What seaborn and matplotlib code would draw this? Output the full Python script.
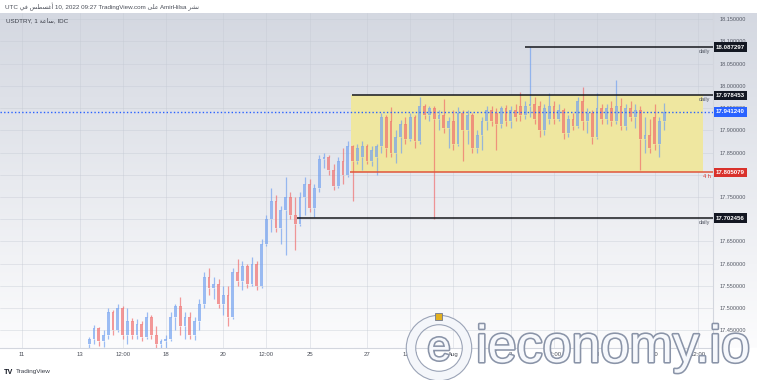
import numpy as np
import pandas as pd
import matplotlib
matplotlib.use("Agg")
import matplotlib.pyplot as plt
import matplotlib.patheffects as pe
from matplotlib.patches import Rectangle, Circle
from matplotlib.transforms import blended_transform_factory
import seaborn as sns

# ---------------- data (USDTRY, sampled every 4 one-hour bars) ----------------
bar_hour = list(range(56, 537, 4))   # trading-hour index from Jul 11 00:00
open_ = [17.420, 17.430, 17.455, 17.425, 17.440, 17.490, 17.450, 17.500, 17.440, 17.470,
         17.440, 17.465, 17.435, 17.480, 17.440, 17.420, 17.425, 17.430, 17.480, 17.505,
         17.460, 17.480, 17.440, 17.470, 17.510, 17.570, 17.545, 17.555, 17.510, 17.530,
         17.480, 17.580, 17.560, 17.595, 17.555, 17.600, 17.550, 17.645, 17.700, 17.740,
         17.680, 17.720, 17.750, 17.710, 17.690, 17.750, 17.780, 17.725, 17.770, 17.835,
         17.840, 17.810, 17.775, 17.830, 17.800, 17.865, 17.830, 17.840, 17.865, 17.830,
         17.840, 17.865, 17.930, 17.920, 17.850, 17.885, 17.915, 17.880, 17.930, 17.875,
         17.955, 17.935, 17.950, 17.925, 17.935, 17.905, 17.920, 17.870, 17.940, 17.900,
         17.935, 17.860, 17.890, 17.920, 17.945, 17.940, 17.915, 17.950, 17.920, 17.945,
         17.955, 17.935, 17.955, 17.960, 17.955, 17.900, 17.925, 17.955, 17.925, 17.945,
         17.895, 17.925, 17.910, 17.965, 17.920, 17.940, 17.885, 17.950, 17.925, 17.950,
         17.920, 17.955, 17.910, 17.950, 17.930, 17.945, 17.880, 17.890, 17.930, 17.870,
         17.920]
high = [17.435, 17.462, 17.458, 17.450, 17.500, 17.495, 17.510, 17.505, 17.500, 17.478,
        17.475, 17.470, 17.490, 17.485, 17.460, 17.430, 17.440, 17.490, 17.510, 17.525,
        17.490, 17.490, 17.480, 17.520, 17.580, 17.590, 17.570, 17.565, 17.550, 17.550,
        17.590, 17.610, 17.605, 17.600, 17.615, 17.605, 17.655, 17.710, 17.770, 17.755,
        17.730, 17.795, 17.760, 17.750, 17.760, 17.795, 17.790, 17.780, 17.845, 17.850,
        17.845, 17.825, 17.840, 17.860, 17.875, 17.867, 17.870, 17.875, 17.870, 17.865,
        17.870, 17.940, 17.935, 17.953, 17.900, 17.924, 17.930, 17.940, 17.935, 17.975,
        17.960, 17.955, 17.955, 17.945, 17.970, 17.930, 17.945, 17.952, 17.945, 17.945,
        17.940, 17.900, 17.930, 17.955, 17.955, 17.950, 17.955, 17.957, 17.955, 17.960,
        17.986, 17.965, 18.087, 17.975, 17.965, 17.960, 17.984, 17.965, 17.960, 17.950,
        17.935, 17.940, 17.975, 17.997, 17.950, 17.945, 17.985, 17.960, 17.960, 17.965,
        18.013, 17.972, 17.960, 17.965, 17.960, 17.955, 17.930, 17.925, 17.960, 17.930,
        17.962]
low = [17.405, 17.420, 17.415, 17.412, 17.430, 17.440, 17.445, 17.430, 17.420, 17.430,
       17.430, 17.425, 17.430, 17.430, 17.410, 17.400, 17.410, 17.425, 17.450, 17.440,
       17.430, 17.430, 17.428, 17.450, 17.500, 17.530, 17.520, 17.500, 17.485, 17.460,
       17.475, 17.550, 17.540, 17.545, 17.550, 17.540, 17.545, 17.640, 17.670, 17.670,
       17.645, 17.620, 17.700, 17.630, 17.685, 17.710, 17.715, 17.705, 17.760, 17.815,
       17.800, 17.765, 17.770, 17.780, 17.795, 17.740, 17.825, 17.810, 17.825, 17.820,
       17.800, 17.850, 17.840, 17.840, 17.826, 17.850, 17.870, 17.875, 17.860, 17.870,
       17.925, 17.920, 17.700, 17.900, 17.895, 17.860, 17.855, 17.865, 17.830, 17.870,
       17.850, 17.850, 17.855, 17.900, 17.910, 17.855, 17.905, 17.910, 17.905, 17.920,
       17.920, 17.925, 17.930, 17.915, 17.885, 17.890, 17.915, 17.915, 17.920, 17.880,
       17.885, 17.900, 17.905, 17.900, 17.895, 17.870, 17.880, 17.915, 17.915, 17.910,
       17.915, 17.900, 17.900, 17.920, 17.905, 17.810, 17.850, 17.850, 17.855, 17.840,
       17.900]
close = [17.430, 17.455, 17.425, 17.440, 17.490, 17.450, 17.500, 17.440, 17.470, 17.440,
         17.465, 17.435, 17.480, 17.440, 17.420, 17.425, 17.430, 17.480, 17.505, 17.460,
         17.480, 17.440, 17.470, 17.510, 17.570, 17.545, 17.555, 17.510, 17.530, 17.480,
         17.580, 17.560, 17.595, 17.555, 17.600, 17.550, 17.645, 17.700, 17.740, 17.680,
         17.720, 17.750, 17.710, 17.690, 17.750, 17.780, 17.725, 17.770, 17.835, 17.840,
         17.810, 17.775, 17.830, 17.800, 17.865, 17.830, 17.860, 17.865, 17.830, 17.855,
         17.865, 17.930, 17.860, 17.850, 17.885, 17.915, 17.880, 17.930, 17.875, 17.955,
         17.935, 17.950, 17.925, 17.935, 17.905, 17.920, 17.870, 17.940, 17.900, 17.935,
         17.860, 17.890, 17.920, 17.945, 17.920, 17.915, 17.950, 17.920, 17.945, 17.930,
         17.935, 17.955, 17.960, 17.925, 17.900, 17.950, 17.955, 17.925, 17.945, 17.895,
         17.925, 17.910, 17.965, 17.920, 17.940, 17.885, 17.950, 17.925, 17.950, 17.920,
         17.955, 17.910, 17.950, 17.930, 17.945, 17.880, 17.890, 17.860, 17.870, 17.920,
         17.941]

xtick_hour = [0, 48, 84, 120, 168, 204, 240, 288, 324, 360, 408, 444, 480, 528, 564]
xtick_label = ["11", "13", "12:00", "18", "20", "12:00", "25", "27", "12:00",
               "Aug", "3", "12:00", "8", "10", "12:00"]
ytick_values = [17.45, 17.50, 17.55, 17.60, 17.65, 17.70, 17.75, 17.80,
                17.85, 17.90, 17.95, 18.00, 18.05, 18.10, 18.15]

level_price = [18.087297, 17.978453, 17.805079, 17.702456]
level_start = [420.0, 275.5, 273.8, 229.5]
level_note = ["daily", "daily", "4 h", "daily"]
last_price = 17.941240
zone_start, zone_end = 274.5, 568.4
zone_top, zone_bottom = 17.978453, 17.805079

# ---------------- styling ----------------
sns.set_theme(style="white")
plt.rcParams["font.family"] = ["Liberation Sans", "DejaVu Sans"]

W, H = 757, 380
TOP, BOT, RIGHT = 13, 348, 713
XMIN, XMAX = -18.4, 576.8
YMIN, YMAX = 17.410, 18.164
UP, DOWN = "#6f9ff0", "#f06a6a"

fig = plt.figure(figsize=(W / 100, H / 100), dpi=100, facecolor="white")

# gradient background of chart + price scale
bg = fig.add_axes([0, 1 - BOT / H, 1, (BOT - TOP) / H], zorder=0)
g = np.linspace(0, 1, 256)[:, None, None]
c_top = np.array([212, 216, 225]) / 255
c_bot = np.array([252, 252, 253]) / 255
bg.imshow(c_top * (1 - g) + c_bot * g, aspect="auto", extent=[0, 1, 0, 1])
bg.axis("off")

ax = fig.add_axes([0, 1 - BOT / H, RIGHT / W, (BOT - TOP) / H], zorder=1)
ax.patch.set_alpha(0)
ax.set_xlim(XMIN, XMAX)
ax.set_ylim(YMIN, YMAX)

ax.set_xticks(xtick_hour)
ax.set_xticklabels(xtick_label)
ax.set_yticks(ytick_values)
ax.set_yticklabels([f"{v:.6f}" for v in ytick_values])
ax.yaxis.tick_right()
ax.tick_params(axis="y", length=0, pad=4.5, labelsize=4, labelcolor="#555a66")
ax.tick_params(axis="x", length=0, pad=3.2, labelsize=4.3, labelcolor="#4a4e58")
ax.grid(True, color="#c4c9d3", lw=0.5, alpha=0.55)
ax.set_axisbelow(True)
for s in ["top", "left"]:
    ax.spines[s].set_visible(False)
for s in ["bottom", "right"]:
    ax.spines[s].set_color("#d3d6de")
    ax.spines[s].set_linewidth(0.8)

# yellow range zone
ax.add_patch(Rectangle((zone_start, zone_bottom), zone_end - zone_start,
                       zone_top - zone_bottom, fc="#efe7a0", ec="none", zorder=1))

# candles
df = pd.DataFrame(dict(hour=bar_hour, open=open_, high=high, low=low, close=close))
is_up = df["close"] >= df["open"]
cols = np.where(is_up, UP, DOWN)
b_lo = np.minimum(df["open"], df["close"])
b_hi = np.maximum(df["open"], df["close"])
ax.vlines(df["hour"], df["low"], b_lo, colors=cols, lw=0.9, alpha=0.68, zorder=2)
ax.vlines(df["hour"], b_hi, df["high"], colors=cols, lw=0.9, alpha=0.68, zorder=2)
ax.bar(df["hour"], np.maximum(b_hi - b_lo, 0.002), bottom=b_lo, width=2.3,
       color=cols, alpha=0.68, lw=0, zorder=2)

# horizontal levels
lvl_colors = ["#16181d", "#16181d", "#e0553a", "#16181d"]
box_colors = ["#131722", "#131722", "#d9312b", "#131722"]
note_colors = ["#555a66", "#555a66", "#d9312b", "#555a66"]
tr = blended_transform_factory(ax.transAxes, ax.transData)
for p, st, note, lc, bc, nc in zip(level_price, level_start, level_note,
                                   lvl_colors, box_colors, note_colors):
    ax.hlines(p, st, XMAX, color=lc, lw=1.1, zorder=3)
    ax.text(XMAX - 2, p - 0.004, note, ha="right", va="top", fontsize=4,
            color=nc, zorder=4)
    ax.text(1.004, p, f"{p:.6f}", transform=tr, ha="left", va="center",
            fontsize=4.4, fontweight="bold", color="white", clip_on=False, zorder=5,
            bbox=dict(boxstyle="square,pad=0.35", fc=bc, ec="none"))

ax.axhline(last_price, color="#2962ff", lw=1.0, ls=(0, (1, 1.6)), zorder=3)
ax.text(1.004, last_price, f"{last_price:.6f}", transform=tr, ha="left", va="center",
        fontsize=4.4, fontweight="bold", color="white", clip_on=False, zorder=5,
        bbox=dict(boxstyle="square,pad=0.35", fc="#2962ff", ec="none"))

# ---------------- overlay: header, footer, watermark (pixel coordinates) ----------------
ov = fig.add_axes([0, 0, 1, 1], zorder=10)
ov.set_xlim(0, W)
ov.set_ylim(H, 0)
ov.axis("off")
ov.patch.set_alpha(0)

fi = "\ufef2\ufed3"
aghustus = "\ufeb2\ufec4\ufeb4\ufecf\ufe83"
ala = "\ufef0\ufee0\ufecb"
nashr = "\ufeae\ufeb8\ufee7"
saa = "\ufe94\ufecb\ufe8e\ufeb3"
ov.text(5, 6.5, f"UTC {fi} {aghustus} 10, 2022 09:27 TradingView.com {ala} AmirHilsa {nashr}",
        fontsize=4.5, color="#4a4e58", va="center", ha="left")
ov.text(6, 20.5, f"USDTRY, 1 {saa}, IDC", fontsize=4.5, color="#3a3e48",
        va="center", ha="left")

ov.text(4, 372, "TV", fontsize=5.2, fontweight="bold", color="#131722",
        va="center", ha="left")
ov.text(16, 372, "TradingView", fontsize=4.6, color="#3a3e48", va="center", ha="left")

# watermark
stroke = [pe.withStroke(linewidth=2.3, foreground="#8a94a8")]
ov.add_patch(Circle((439, 348), 28, fill=False, lw=6.0, ec="#f4f6fa", zorder=11,
                    path_effects=[pe.withStroke(linewidth=7.6, foreground="#9aa3b6")]))
ov.text(439, 349, "e", fontsize=30, color="#f6f8fc", ha="center", va="center",
        zorder=12, path_effects=stroke)
ov.add_patch(Rectangle((435, 313), 7, 7, fc="#e2b020", ec="#6f7890", lw=0.6, zorder=13))
ov.text(476, 362, "ieconomy.io", fontsize=37.5, color="#f6f8fc", ha="left",
        va="baseline", zorder=12, path_effects=stroke)

fig.savefig("out.png", dpi=100, facecolor="white")
